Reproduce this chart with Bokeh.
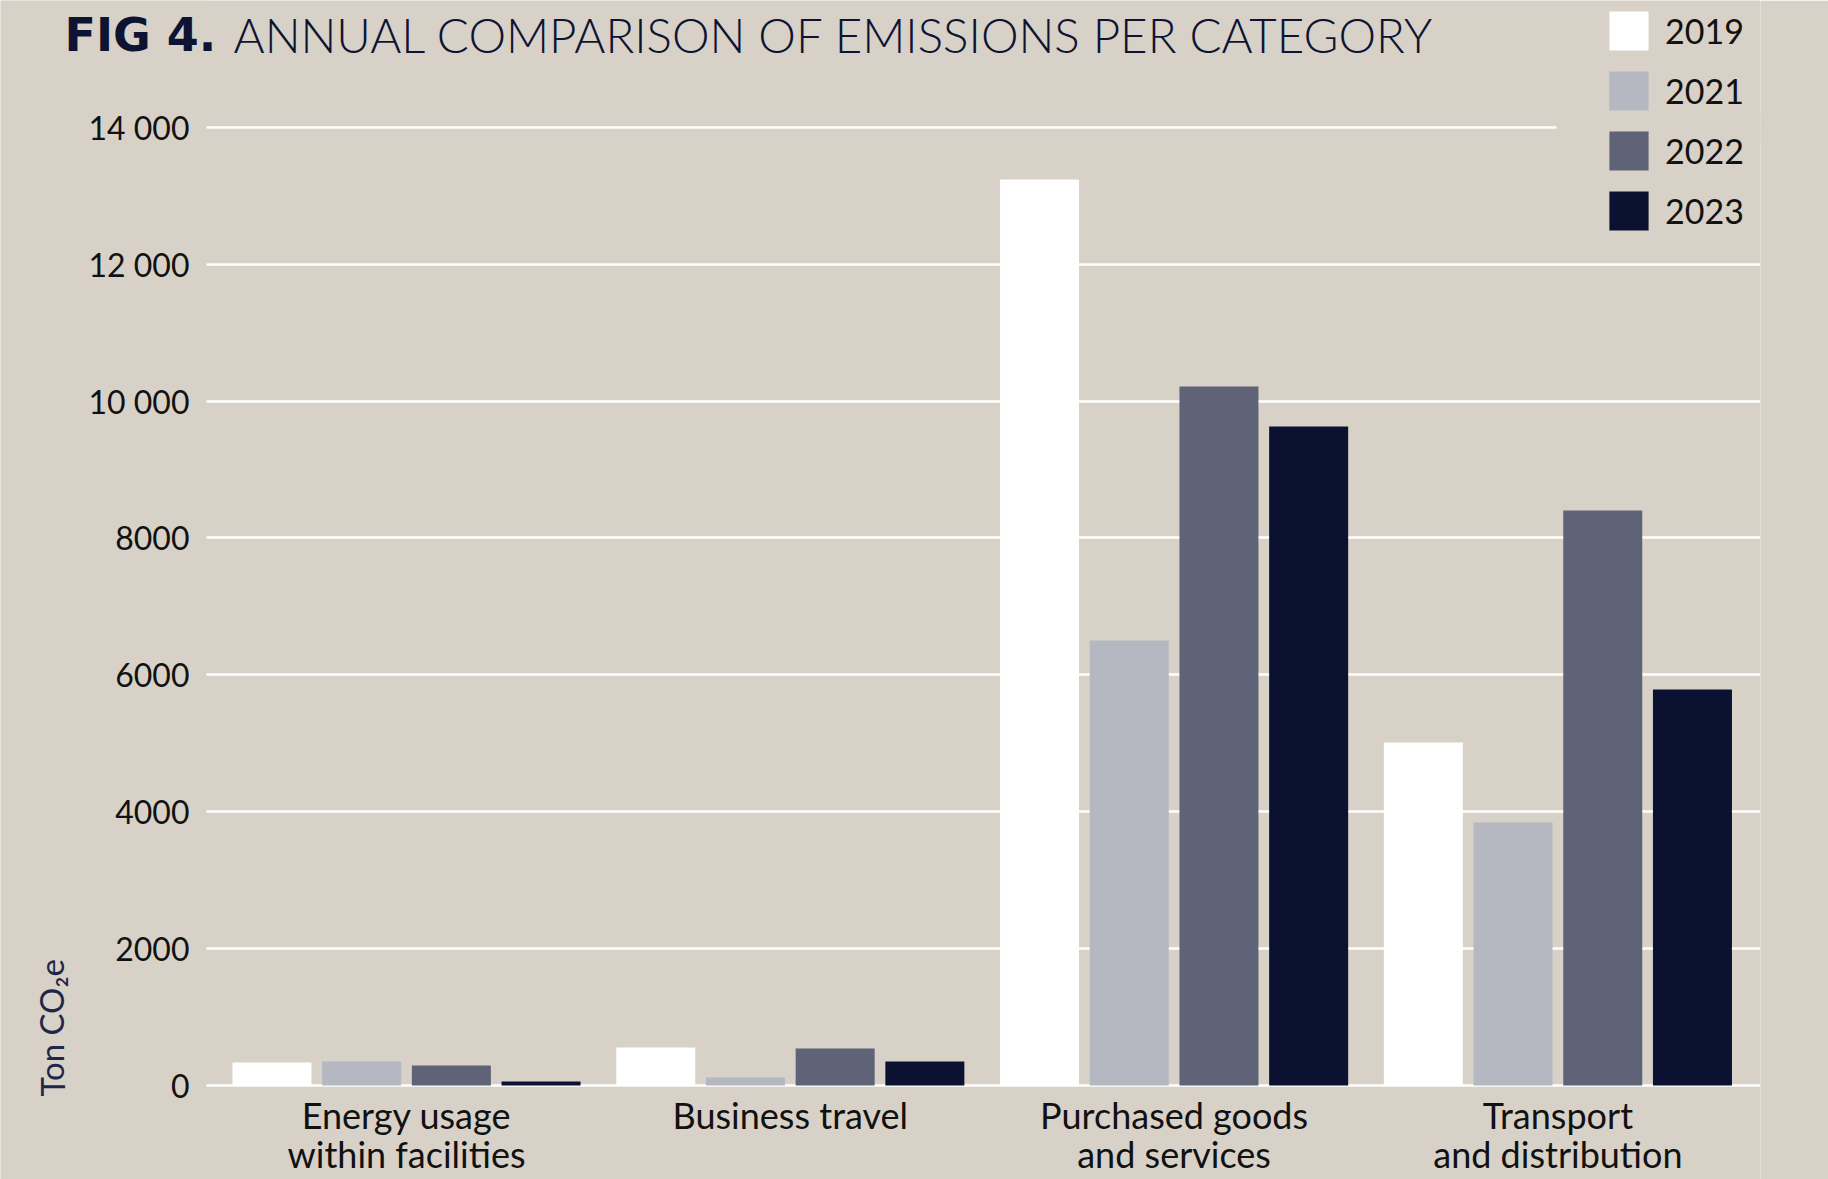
from bokeh.plotting import figure
from bokeh.models import Range1d, FixedTicker, Label, BoxAnnotation, ColumnDataSource
from bokeh.transform import dodge
from bokeh.embed import file_html
from bokeh.resources import INLINE

# ---- data ----
categories = ["Energy usage\nwithin facilities", "Business travel",
              "Purchased goods\nand services", "Transport\nand distribution"]
years = ["2019", "2021", "2022", "2023"]
v2019 = [336, 555, 13236, 5010]
v2021 = [351, 117, 6500, 3842]
v2022 = [292, 540, 10212, 8400]
v2023 = [58, 350, 9627, 5785]
ytick_values = [0, 2000, 4000, 6000, 8000, 10000, 12000, 14000]
ytick_labels = ["0", "2000", "4000", "6000", "8000", "10 000", "12 000", "14 000"]

colors = ["#ffffff", "#b5b8c1", "#5e6377", "#0b1130"]
BG = "#d8d1c7"
NAVY = "#0d1433"

cat_pos = list(range(len(categories)))
src = ColumnDataSource(dict(xpos=cat_pos, y2019=v2019, y2021=v2021, y2022=v2022, y2023=v2023))

# ---- layout constants (pixels) ----
FW, FH = 1760, 1179      # frame: canvas x 0..1760, y 0..1179
PPX = 383.8              # pixels per category
PPU = 0.06845            # pixels per ton
AXIS_X = 206             # where the value axis / gridlines begin
BASE_Y = 1085            # canvas y of the zero line
x0 = -406 / PPX
x1 = x0 + FW / PPX
y0 = -(FH - BASE_Y) / PPU
y1 = y0 + FH / PPU

p = figure(width=1828, height=1179,
           x_range=Range1d(x0, x1), y_range=Range1d(y0, y1),
           min_border_left=0, min_border_right=1828 - FW, min_border_top=0, min_border_bottom=0,
           output_backend="svg", toolbar_location=None)
p.background_fill_color = BG
p.border_fill_color = BG
p.outline_line_color = None

p.xgrid.visible = False
p.ygrid.ticker = FixedTicker(ticks=ytick_values)
p.ygrid.grid_line_color = "#ffffff"
p.ygrid.grid_line_width = 2.5

yax = p.yaxis[0]
yax.fixed_location = x0 + AXIS_X / PPX
yax.ticker = FixedTicker(ticks=ytick_values)
yax.major_label_overrides = {v: l for v, l in zip(ytick_values, ytick_labels)}
yax.axis_line_color = None
yax.major_tick_line_color = None
yax.minor_tick_line_color = None
yax.major_tick_out = 0
yax.major_tick_in = 0
yax.major_label_standoff = 17
yax.major_label_text_font = "Lato"
yax.major_label_text_font_size = "32px"
yax.major_label_text_color = "#111111"

xax = p.xaxis[0]
xax.fixed_location = 0
xax.ticker = FixedTicker(ticks=cat_pos)
xax.major_label_overrides = {i: c for i, c in zip(cat_pos, categories)}
xax.axis_line_color = None
xax.major_tick_line_color = None
xax.minor_tick_line_color = None
xax.major_tick_out = 0
xax.major_tick_in = 0
xax.major_label_standoff = 7
xax.major_label_text_font = "Lato"
xax.major_label_text_font_size = "36px"
xax.major_label_text_color = "#111111"
xax.major_label_text_line_height = 0.9

offsets = [-1.5 * 89.7 / PPX, -0.5 * 89.7 / PPX, 0.5 * 89.7 / PPX, 1.5 * 89.7 / PPX]
for yr, off, c in zip(years, offsets, colors):
    p.vbar(x=dodge("xpos", off), top="y" + yr, width=79 / PPX, source=src,
           fill_color=c, line_color=None, legend_label=yr)

# gridlines start at the value axis; the top one stops before the legend
p.add_layout(BoxAnnotation(left=0, right=AXIS_X, bottom=0, top=FH,
                           left_units="screen", right_units="screen",
                           top_units="screen", bottom_units="screen",
                           fill_color=BG, fill_alpha=1.0, line_color=None, level="glyph"))
p.add_layout(BoxAnnotation(left=1556, right=FW, bottom=FH - 145, top=FH - 110,
                           left_units="screen", right_units="screen",
                           top_units="screen", bottom_units="screen",
                           fill_color=BG, fill_alpha=1.0, line_color=None, level="glyph"))

lg = p.legend[0]
lg.location = (1604, FH - 235)
lg.glyph_width = 49
lg.glyph_height = 49
lg.spacing = 11
lg.label_standoff = 12
lg.label_text_font = "Lato"
lg.label_text_font_size = "34px"
lg.label_text_color = "#111111"
lg.padding = 0
lg.margin = 0
lg.background_fill_alpha = 0
lg.border_line_color = None

p.add_layout(Label(x=64, y=FH - 34, x_units="screen", y_units="screen", text="FIG 4.",
                   text_font="DejaVu Sans", text_font_style="bold", text_font_size="46px",
                   text_color=NAVY, text_baseline="alphabetic", text_align="left"))
p.add_layout(Label(x=233, y=FH - 34, x_units="screen", y_units="screen",
                   text="ANNUAL COMPARISON OF EMISSIONS PER CATEGORY",
                   text_font="Lato Light", text_font_size="47.5px",
                   text_color=NAVY, text_baseline="alphabetic", text_align="left"))
p.add_layout(Label(x=51, y=FH - 1096, x_units="screen", y_units="screen", text="Ton CO₂e",
                   text_font="Lato", text_font_size="33px", angle=1.5708,
                   text_color="#1f2648", text_baseline="middle", text_align="left"))

open("out.html", "w").write(file_html(p, INLINE))
